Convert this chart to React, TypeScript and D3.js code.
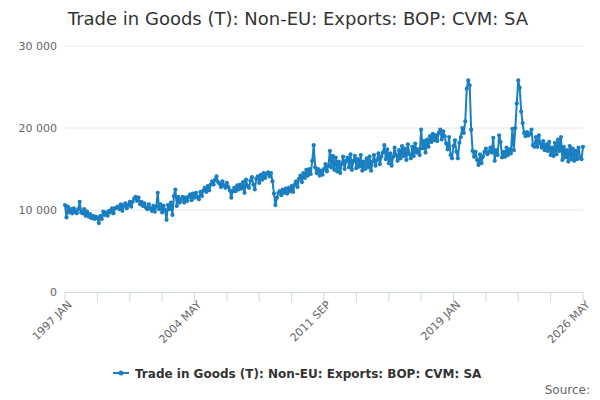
import React from "react";
import * as d3 from "d3";

const title = "Trade in Goods (T): Non-EU: Exports: BOP: CVM: SA";
const seriesName = "Trade in Goods (T): Non-EU: Exports: BOP: CVM: SA";
const startYear = 1997;
const monthNames = ["JAN","FEB","MAR","APR","MAY","JUN","JUL","AUG","SEP","OCT","NOV","DEC"];

const v1997 = [10600, 9100, 10400, 9700, 10100, 9600, 10200, 9800, 9600, 10100, 11000, 9700];
const v1998 = [9600, 10100, 9300, 9800, 9200, 9500, 9000, 9300, 8900, 9200, 9000, 8400];
const v1999 = [9300, 8900, 9800, 9400, 9700, 9300, 9900, 9700, 10200, 9600, 10200, 10300];
const v2000 = [10400, 10100, 10700, 9900, 10500, 10800, 10200, 10600, 11000, 10400, 11000, 11400];
const v2001 = [11600, 11100, 11500, 10700, 11000, 10500, 10800, 10300, 10100, 10700, 10200, 9900];
const v2002 = [10500, 9800, 10400, 12100, 10100, 10700, 9700, 10500, 10000, 8800, 10600, 10100];
const v2003 = [10900, 9400, 11700, 12500, 10500, 11600, 10900, 11300, 11600, 10900, 11500, 11100];
const v2004 = [11600, 11900, 11200, 12000, 11500, 12100, 11600, 11300, 12200, 11700, 12400, 12700];
const v2005 = [12200, 12900, 12400, 13100, 13500, 13100, 13700, 14100, 13400, 13200, 12800, 13500];
const v2006 = [13000, 12700, 13300, 12800, 12400, 11500, 12300, 12700, 12300, 13000, 12500, 13100];
const v2007 = [12600, 13400, 12100, 13700, 12900, 12700, 13600, 14000, 13100, 12500, 13800, 14100];
const v2008 = [13300, 14300, 13700, 14500, 13900, 14400, 14600, 14100, 14500, 13500, 12000, 10600];
const v2009 = [11500, 12100, 12300, 11800, 12500, 12100, 12600, 12000, 12700, 12300, 12900, 12200];
const v2010 = [13100, 13500, 12800, 13800, 14200, 13400, 14500, 13900, 14900, 14200, 15000, 14400];
const v2011 = [16000, 17900, 15200, 14500, 15000, 14200, 14800, 14300, 15000, 15600, 14700, 15400];
const v2012 = [17200, 15200, 16600, 14900, 16400, 14700, 15900, 14500, 15600, 16500, 15000, 16000];
const v2013 = [16400, 15200, 16800, 14900, 16000, 16600, 15100, 16200, 15300, 16700, 14800, 15900];
const v2014 = [15000, 16300, 15200, 16500, 14800, 15900, 16700, 15400, 16100, 16900, 15600, 16500];
const v2015 = [17000, 17900, 16200, 17400, 15700, 16900, 15400, 16500, 17600, 16700, 16000, 17300];
const v2016 = [16300, 17800, 16600, 17500, 16100, 18000, 16800, 16300, 17700, 16600, 18100, 17000];
const v2017 = [17400, 16700, 19800, 17500, 18400, 17000, 18600, 17700, 19000, 18300, 19300, 18500];
const v2018 = [19100, 18400, 19400, 19800, 18600, 19600, 19000, 18100, 17400, 18900, 16700, 16300];
const v2019 = [17800, 18500, 17100, 16300, 18200, 18900, 20000, 19400, 20800, 24800, 25800, 25200];
const v2020 = [19800, 17200, 16500, 17100, 16100, 15500, 16800, 15700, 16500, 17100, 17500, 16800];
const v2021 = [17100, 17600, 17000, 18800, 16000, 17300, 16700, 19100, 18300, 16400, 17100, 16500];
const v2022 = [17600, 16700, 17400, 16900, 19900, 17300, 20000, 23000, 25800, 24900, 22000, 20600];
const v2023 = [19400, 19000, 19500, 19100, 19300, 19800, 17900, 17700, 18900, 17700, 19100, 18100];
const v2024 = [17600, 18400, 17300, 18000, 17200, 18300, 16700, 17600, 16600, 18200, 16800, 18600];
const v2025 = [17200, 18900, 16100, 17700, 16400, 17300, 15900, 17800, 16200, 17500, 16000, 17200];
const v2026 = [16200, 17600, 16400, 16200, 17700];

const values: number[] = [
  ...v1997, ...v1998, ...v1999, ...v2000, ...v2001, ...v2002, ...v2003, ...v2004,
  ...v2005, ...v2006, ...v2007, ...v2008, ...v2009, ...v2010, ...v2011, ...v2012,
  ...v2013, ...v2014, ...v2015, ...v2016, ...v2017, ...v2018, ...v2019, ...v2020,
  ...v2021, ...v2022, ...v2023, ...v2024, ...v2025, ...v2026,
];

const categories: string[] = values.map((_, i) => `${startYear + Math.floor(i / 12)} ${monthNames[i % 12]}`);
const yTicks = [0, 10000, 20000, 30000];
const tickEvery = 22;
const labelEvery = 88;

const W = 600, H = 400;
const left = 65, right = 583, top = 46, bottom = 292;
const color = "#1a7fc1";
const font = "'DejaVu Sans', sans-serif";

export default function App() {
  const x = d3.scaleLinear().domain([0, values.length - 1]).range([left, right]);
  const y = d3.scaleLinear().domain([0, 30000]).range([bottom, top]);
  const line = d3.line<number>().x((_, i) => x(i)).y((d) => y(d));
  const fmt = (v: number) => d3.format(",")(v).replace(/,/g, " ");
  const ticks = d3.range(0, values.length, tickEvery);
  const labels = d3.range(0, values.length, labelEvery);

  return (
    <svg width={W} height={H} style={{ position: "absolute", left: 0, top: 0, fontFamily: font }}>
      <rect width={W} height={H} fill="#fff" />
      <text x={298} y={25} textAnchor="middle" fontSize={18} fill="#333">{title}</text>
      {yTicks.map((t) => (
        <g key={t}>
          {t > 0 && <line x1={left} x2={right} y1={y(t)} y2={y(t)} stroke="#e6e6e6" strokeWidth={1} />}
          <text x={57} y={y(t) + 4} textAnchor="end" fontSize={11} fill="#666">{fmt(t)}</text>
        </g>
      ))}
      <line x1={left} x2={right} y1={bottom + 0.5} y2={bottom + 0.5} stroke="#ccd6eb" />
      {ticks.map((i) => (
        <line key={i} x1={x(i)} x2={x(i)} y1={bottom} y2={bottom + 10} stroke="#ccd6eb" />
      ))}
      {labels.map((i) => (
        <text key={i} transform={`translate(${x(i) + 2},${bottom + 8}) rotate(-45)`} textAnchor="end"
          fontSize={11} fill="#666" dy="0.7em">{categories[i]}</text>
      ))}
      <path d={line(values) || ""} fill="none" stroke={color} strokeWidth={2} strokeLinejoin="round" />
      {values.map((v, i) => (
        <circle key={i} cx={x(i)} cy={y(v)} r={2.1} fill={color} />
      ))}
      <g transform="translate(113,373)">
        <line x1={0} x2={16} y1={0} y2={0} stroke={color} strokeWidth={2} />
        <circle cx={8} cy={0} r={2.5} fill={color} />
        <text x={22} y={4.5} fontSize={12} fontWeight="bold" fill="#333">{seriesName}</text>
      </g>
      <text x={590} y={394} textAnchor="end" fontSize={12} fill="#666">Source:</text>
    </svg>
  );
}
